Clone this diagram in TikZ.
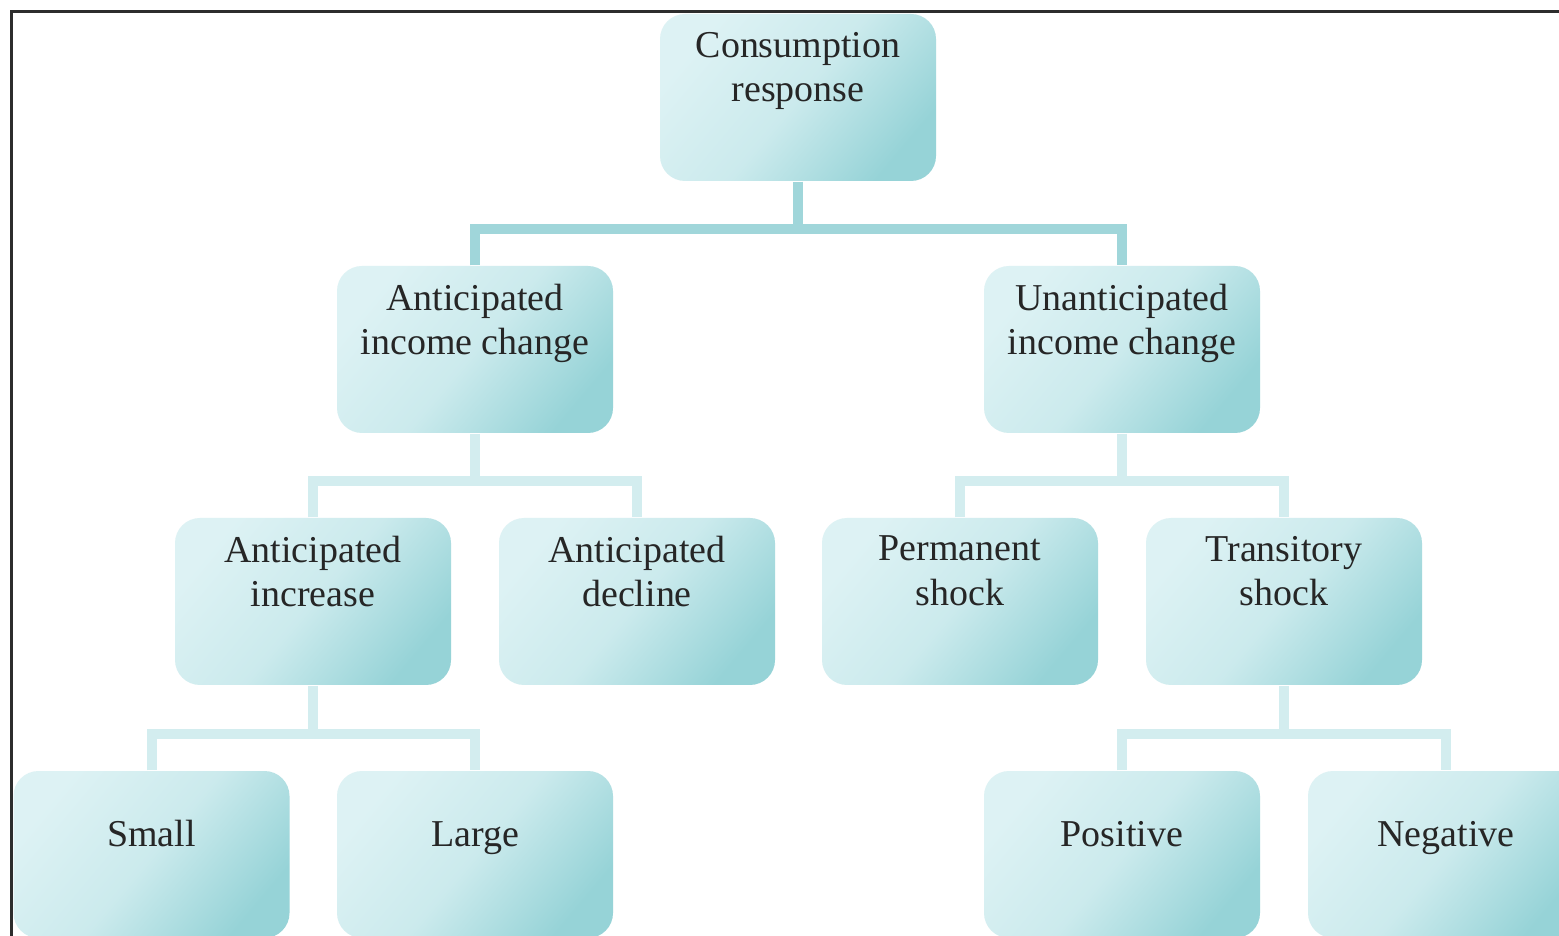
\documentclass[tikz,border=0pt]{standalone}
\usepackage{fontspec}
\setmainfont{Liberation Serif}
\definecolor{boxlight}{RGB}{221,242,244}
\definecolor{boxdark}{RGB}{150,211,215}
\definecolor{linkdark}{RGB}{160,214,218}
\definecolor{linklight}{RGB}{211,237,239}
\definecolor{framegray}{RGB}{45,45,45}

\begin{document}
\begin{tikzpicture}[
    box/.style={rounded corners=0.25cm, minimum width=2.76cm, minimum height=1.67cm, inner sep=0pt,
      top color=boxlight, bottom color=boxdark, middle color=boxlight!75!boxdark, shading angle=50},
    two/.style={anchor=north, yshift=-0.18cm, inner sep=0pt, align=center,
      font=\fontsize{10.8}{12.6}\selectfont, text=black!85},
    one/.style={anchor=base, yshift=-0.76cm, inner sep=0pt,
      font=\fontsize{10.8}{12.6}\selectfont, text=black!85},
    toplink/.style={linkdark, line width=0.1cm},
    link/.style={linklight, line width=0.1cm}]
  \clip (0,0) rectangle (15.59,-9.36);
  \fill[white] (0,0) rectangle (15.59,-9.36);
  \draw[framegray, line width=0.03cm] (0.115,-9.5) |- (15.7,-0.115);

  \node[box, label={[two]north:{Consumption\\response}}] (cr) at (7.98,-0.975) {};
  \node[box, label={[two]north:{Anticipated\\income change}}] (ai) at (4.75,-3.495) {};
  \node[box, label={[two]north:{Unanticipated\\income change}}] (ui) at (11.22,-3.495) {};
  \node[box, label={[two]north:{Anticipated\\increase}}] (inc) at (3.13,-6.015) {};
  \node[box, label={[two]north:{Anticipated\\decline}}] (dec) at (6.37,-6.015) {};
  \node[box, label={[two]north:{Permanent\\shock}}] (perm) at (9.60,-6.015) {};
  \node[box, label={[two]north:{Transitory\\shock}}] (trans) at (12.84,-6.015) {};
  \node[box, label={[one]north:Small}] (small) at (1.515,-8.545) {};
  \node[box, label={[one]north:Large}] (large) at (4.75,-8.545) {};
  \node[box, label={[one]north:Positive}] (pos) at (11.22,-8.545) {};
  \node[box, label={[one]north:Negative}] (neg) at (14.46,-8.545) {};

  \draw[toplink] (cr.south) -- ++(0,-0.47) coordinate (j1);
  \draw[toplink] (ai.north) |- (j1) -| (ui.north);
  \draw[link] (ai.south) -- ++(0,-0.47) coordinate (j2);
  \draw[link] (inc.north) |- (j2) -| (dec.north);
  \draw[link] (ui.south) -- ++(0,-0.47) coordinate (j3);
  \draw[link] (perm.north) |- (j3) -| (trans.north);
  \draw[link] (inc.south) -- ++(0,-0.48) coordinate (j4);
  \draw[link] (small.north) |- (j4) -| (large.north);
  \draw[link] (trans.south) -- ++(0,-0.48) coordinate (j5);
  \draw[link] (pos.north) |- (j5) -| (neg.north);
\end{tikzpicture}
\end{document}
